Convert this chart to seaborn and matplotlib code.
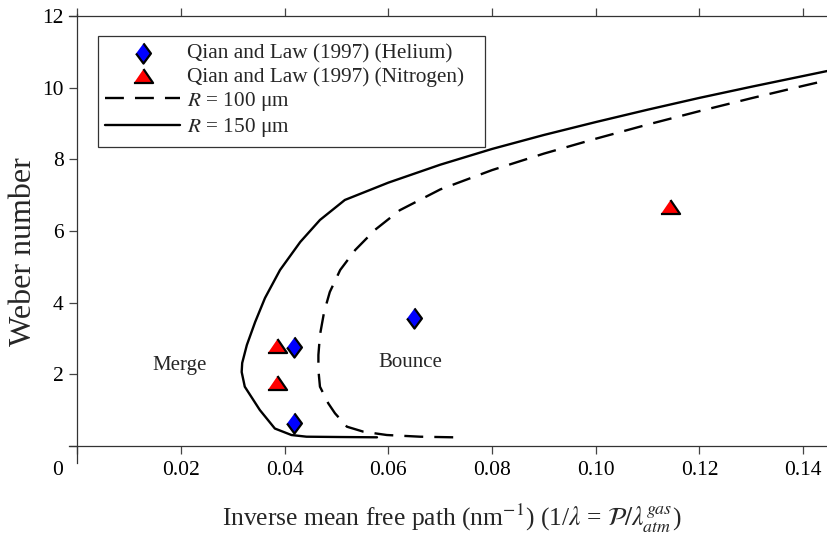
import numpy as np
import pandas as pd
import matplotlib
matplotlib.use('Agg')
import matplotlib.pyplot as plt
import matplotlib.transforms as mtransforms
import seaborn as sns

# ---- data ----
he_x = [0.0417, 0.0417, 0.0650]
he_y = [2.75, 0.63, 3.57]
n2_x = [0.0386, 0.0386, 0.1143]
n2_y = [2.79, 1.77, 6.66]

r100_x = [0.0725, 0.0661, 0.0597, 0.0552, 0.0520, 0.0497, 0.0484, 0.0468, 0.0465,
          0.0465, 0.0468, 0.0476, 0.0487, 0.0507, 0.0536, 0.0574, 0.0622, 0.0700,
          0.0800, 0.0900, 0.1000, 0.1100, 0.1200, 0.1300, 0.1400, 0.1446]
r100_y = [0.243, 0.260, 0.307, 0.399, 0.539, 0.913, 1.192, 1.655, 2.121,
          2.540, 3.098, 3.740, 4.298, 4.912, 5.470, 6.030, 6.580, 7.160,
          7.700, 8.160, 8.575, 8.970, 9.345, 9.705, 10.050, 10.205]

r150_x = [0.0578, 0.0507, 0.0442, 0.0413, 0.0381, 0.0352, 0.0323, 0.0317, 0.0318,
          0.0327, 0.0343, 0.0362, 0.0391, 0.0430, 0.0468, 0.0516, 0.0600, 0.0700,
          0.0800, 0.0900, 0.1000, 0.1100, 0.1200, 0.1300, 0.1400, 0.1446]
r150_y = [0.243, 0.251, 0.260, 0.307, 0.488, 1.005, 1.655, 2.065, 2.317,
          2.819, 3.461, 4.131, 4.912, 5.694, 6.308, 6.866, 7.350, 7.850,
          8.290, 8.680, 9.040, 9.385, 9.715, 10.025, 10.325, 10.463]

xticks = [0, 0.02, 0.04, 0.06, 0.08, 0.10, 0.12, 0.14]
xticklabels = ['0', '0.02', '0.04', '0.06', '0.08', '0.10', '0.12', '0.14']
yticks = [0, 2, 4, 6, 8, 10, 12]
yticklabels = ['', '2', '4', '6', '8', '10', '12']

lab_he = 'Qian and Law (1997) (Helium)'
lab_n2 = 'Qian and Law (1997) (Nitrogen)'
lab_100 = '$R$ = 100 \u03bcm'
lab_150 = '$R$ = 150 \u03bcm'

# ---- style ----
sns.set_style('ticks')
plt.rcParams['font.family'] = ['Liberation Serif', 'DejaVu Serif']
plt.rcParams['mathtext.fontset'] = 'stix'

fig = plt.figure(figsize=(8.27, 5.33), dpi=100)
ax = fig.add_axes([0.0935, 0.1632, 0.9065, 0.8068])

dash = (0, (8.0, 4.7))
sns.lineplot(x=r100_x, y=r100_y, sort=False, estimator=None, color='black',
             linewidth=1.7, linestyle=dash, label=lab_100, ax=ax)
sns.lineplot(x=r150_x, y=r150_y, sort=False, estimator=None, color='black',
             linewidth=1.7, label=lab_150, ax=ax)

diamond = [(0, 1), (0.74, 0), (0, -1), (-0.74, 0)]
triangle = [(-1, -0.68), (1, -0.68), (0, 0.78)]
sns.scatterplot(x=he_x, y=he_y, marker=diamond, s=210, color='#0000ff',
                edgecolor='black', linewidth=1.6, label=lab_he, ax=ax, zorder=4)
sns.scatterplot(x=n2_x, y=n2_y, marker=triangle, s=190, color='#ff0000',
                edgecolor='black', linewidth=1.6, label=lab_n2, ax=ax, zorder=4)

ax.text(0.0197, 2.12, 'Merge', ha='center', va='baseline', fontsize=15)
ax.text(0.0643, 2.21, 'Bounce', ha='center', va='baseline', fontsize=15)

ax.set_xlim(0, 0.1446)
ax.set_ylim(0, 12)
ax.set_xticks(xticks)
ax.set_xticklabels(xticklabels)
ax.set_yticks(yticks)
ax.set_yticklabels(yticklabels)

ax.spines['right'].set_visible(False)
for s in ['left', 'bottom', 'top']:
    ax.spines[s].set_color('#333333')
    ax.spines[s].set_linewidth(0.9)
ax.spines['left'].set_bounds(-0.47, 12.05)
ax.spines['bottom'].set_bounds(-0.0016, 0.1446)
ax.spines['top'].set_bounds(-0.0016, 0.1446)

ax.tick_params(axis='both', which='major', direction='out', length=5.5, width=0.9,
               color='#444444', labelsize=15.5, labelcolor='black')
ax.tick_params(axis='x', top=True, labeltop=False, pad=5.5)
ax.tick_params(axis='y', pad=4.3)

# shift the origin "0" label to the left like the reference
lbl0 = ax.get_xticklabels()[0]
lbl0.set_transform(lbl0.get_transform() +
                   mtransforms.ScaledTranslation(-0.20, 0, fig.dpi_scale_trans))

ax.set_xlabel('Inverse mean free path (nm$^{-1}$) (1/$\\lambda$ = $\\mathcal{P}/\\lambda^{gas}_{atm}$)',
              fontsize=18.4, labelpad=15)
ax.set_ylabel('Weber number', fontsize=23)
ax.yaxis.set_label_coords(-0.053, 0.451)

handles, labels = ax.get_legend_handles_labels()
order = [labels.index(l) for l in [lab_he, lab_n2, lab_100, lab_150]]
leg = ax.legend([handles[i] for i in order], [labels[i] for i in order],
                loc='upper left', bbox_to_anchor=(0.0272, 0.5, 0.5166, 0.4535),
                mode='expand', borderaxespad=0, fontsize=15.3, frameon=True,
                fancybox=False, framealpha=1, edgecolor='#333333',
                handlelength=3.5, handletextpad=0.35, labelspacing=0.15,
                borderpad=0.36)
leg.get_frame().set_linewidth(0.9)

fig.savefig('out.png', dpi=100)
